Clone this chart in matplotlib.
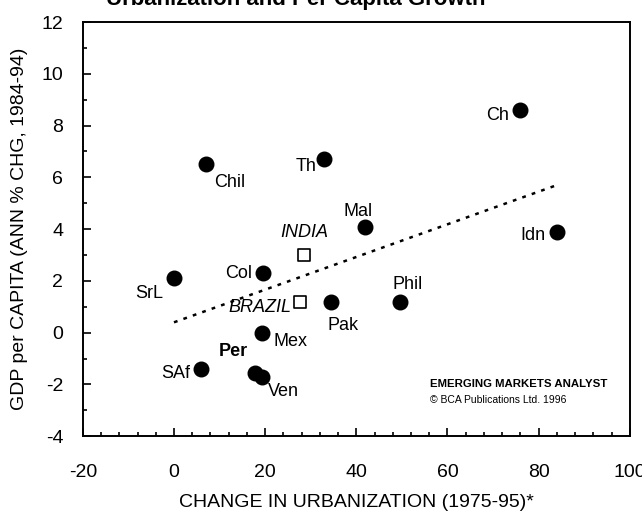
import matplotlib.pyplot as plt
from matplotlib.ticker import MultipleLocator

plt.rcParams['font.family'] = ['Liberation Sans', 'DejaVu Sans']
plt.rcParams['axes.unicode_minus'] = False

# countries (filled dots)
countries = ['Ch', 'Idn', 'Th', 'Chil', 'Mal', 'Col', 'SrL', 'Pak', 'Phil',
             'Mex', 'SAf', 'Per', 'Ven']
urban_chg = [76, 84, 33, 7, 42, 19.5, 0, 34.5, 49.5, 19.3, 6, 17.8, 19.3]
gdp_growth = [8.6, 3.9, 6.7, 6.5, 4.1, 2.3, 2.1, 1.2, 1.2, 0.0, -1.4, -1.55, -1.7]

# highlighted economies (open squares)
big_names = ['INDIA', 'BRAZIL']
big_urban = [28.5, 27.6]
big_gdp = [3.0, 1.2]

# trend line end points
trend_x = [0, 84]
trend_y = [0.4, 5.7]

# label offsets in points (layout only)
offsets = {'Ch': (-8, -4, 'right'), 'Idn': (-8, -3, 'right'), 'Th': (-6, -5, 'right'),
           'Chil': (6, -13, 'left'), 'Mal': (-5, 11, 'center'), 'Col': (-8, 0, 'right'),
           'SrL': (-8, -11, 'right'), 'Pak': (-3, -17, 'left'), 'Phil': (6, 12, 'center'),
           'Mex': (8, -6, 'left'), 'SAf': (-8, -3, 'right'), 'Per': (-16, 15, 'center'),
           'Ven': (4, -11, 'left')}
big_offsets = {'INDIA': (0, 16, 'center'), 'BRAZIL': (-6, -4, 'right')}

fig = plt.figure(figsize=(6.42, 5.12), dpi=100)
ax = fig.add_axes([0.129, 0.148, 0.852, 0.809])

ax.plot(trend_x, trend_y, linestyle=(0, (1.5, 2.5)), color='black', linewidth=1.8)
ax.scatter(urban_chg, gdp_growth, s=110, color='black', zorder=3)
ax.scatter(big_urban, big_gdp, s=80, marker='s', facecolor='white',
           edgecolor='black', linewidth=1.2, zorder=3)

for name, x, y in zip(countries, urban_chg, gdp_growth):
    dx, dy, ha = offsets[name]
    ax.annotate(name, (x, y), xytext=(dx, dy), textcoords='offset points',
                ha=ha, va='center', fontsize=13,
                fontweight='bold' if name == 'Per' else 'normal')

for name, x, y in zip(big_names, big_urban, big_gdp):
    dx, dy, ha = big_offsets[name]
    ax.annotate(name, (x, y), xytext=(dx, dy), textcoords='offset points',
                ha=ha, va='center', fontsize=13, style='italic')

ax.set_xlim(-20, 100)
ax.set_ylim(-4, 12)
ax.xaxis.set_major_locator(MultipleLocator(20))
ax.xaxis.set_minor_locator(MultipleLocator(4))
ax.yaxis.set_major_locator(MultipleLocator(2))
ax.yaxis.set_minor_locator(MultipleLocator(1))
ax.tick_params(which='both', direction='in', top=False, right=False,
               labelsize=14, width=1.2)
ax.tick_params(axis='x', which='major', length=6, pad=20)
ax.tick_params(axis='y', which='major', length=6, pad=14)
ax.tick_params(which='minor', length=3)
for sp in ax.spines.values():
    sp.set_linewidth(1.4)

ax.set_xlabel('CHANGE IN URBANIZATION (1975-95)*', fontsize=14, labelpad=9)
ax.set_ylabel('GDP per CAPITA (ANN % CHG, 1984-94)', fontsize=14, labelpad=10)

ax.text(0.635, 0.125, 'EMERGING MARKETS ANALYST', transform=ax.transAxes,
        fontsize=8.2, fontweight='bold', ha='left', va='center')
ax.text(0.635, 0.088, '\u00a9 BCA Publications Ltd. 1996', transform=ax.transAxes,
        fontsize=7.5, ha='left', va='center')

fig.text(0.46, 1.0, 'Urbanization and Per Capita Growth', fontsize=16,
         fontweight='bold', ha='center', va='center')

fig.savefig('out.png', dpi=100)
